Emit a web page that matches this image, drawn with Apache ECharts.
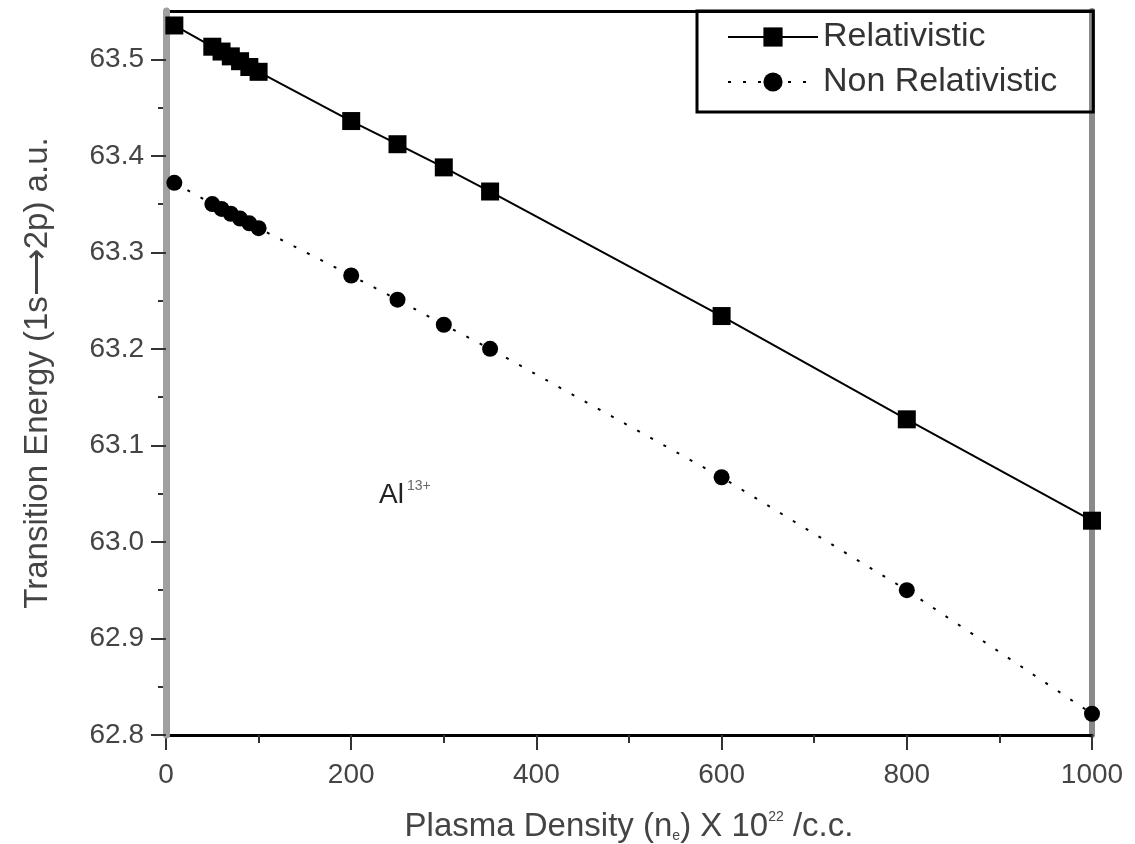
<!DOCTYPE html>
<html>
<head>
<meta charset="utf-8">
<script src="https://cdn.jsdelivr.net/npm/echarts@6/dist/echarts.min.js"></script>
<style>
html,body{margin:0;padding:0;background:#fff;}
#chart{width:1135px;height:844px;}
</style>
</head>
<body>
<div id="chart"></div>
<script>
// Data
const densities = [9, 50, 60, 70, 80, 90, 100, 200, 250, 300, 350, 600, 800, 1000];
const relativistic = [63.535, 63.513, 63.508, 63.503, 63.498, 63.492, 63.487, 63.436, 63.412, 63.388, 63.363, 63.234, 63.127, 63.022];
const nonRelativistic = [63.372, 63.350, 63.345, 63.340, 63.335, 63.330, 63.325, 63.276, 63.251, 63.225, 63.200, 63.067, 62.950, 62.822];
const seriesNames = ['Relativistic', 'Non Relativistic'];
const yMajorTicks = [62.8, 62.9, 63.0, 63.1, 63.2, 63.3, 63.4, 63.5];
const yMinorTicks = [62.85, 62.95, 63.05, 63.15, 63.25, 63.35, 63.45];

const FONT = 'Liberation Sans, Arial, sans-serif';
const chart = echarts.init(document.getElementById('chart'));

const pairs = (ys) => densities.map((x, i) => [x, ys[i]]);
const Y_MIN = 62.8, Y_MAX = 63.55;

chart.setOption({
  animation: false,
  backgroundColor: '#fff',
  grid: { left: 166, right: 43, top: 11, bottom: 109, containLabel: false, outerBoundsMode: 'none' },
  legend: {
    left: 697, top: 11,
    orient: 'vertical',
    borderColor: '#000', borderWidth: 3,
    padding: [9, 36, 13, 30],
    itemGap: 11,
    itemWidth: 90, itemHeight: 24,
    textStyle: { fontFamily: FONT, fontSize: 34, color: '#333' },
    data: seriesNames
  },
  xAxis: [{
    type: 'value', min: 0, max: 1000, interval: 200,
    name: 'Plasma Density (n{sub|e}) X 10{sup|22} /c.c.',
    nameLocation: 'middle', nameGap: 75,
    nameTextStyle: {
      fontFamily: FONT, fontSize: 33, color: '#444',
      rich: {
        sub: { fontFamily: FONT, fontSize: 14, color: '#444', verticalAlign: 'bottom', padding: [17, 0, 0, 0] },
        sup: { fontFamily: FONT, fontSize: 14, color: '#444', verticalAlign: 'top', padding: [0, 0, 17, 0] }
      }
    },
    axisLine: { show: true, onZero: false, lineStyle: { color: '#000', width: 3 } },
    axisTick: { show: true, inside: false, length: 15, lineStyle: { color: '#333', width: 2 } },
    minorTick: { show: true, splitNumber: 2, length: 8, lineStyle: { color: '#333', width: 2 } },
    axisLabel: { fontFamily: FONT, fontSize: 28, color: '#444', margin: 26, formatter: (v) => String(v) },
    splitLine: { show: false }
  }, {
    type: 'value', min: 0, max: 1000, position: 'top',
    axisLine: { show: true, onZero: false, lineStyle: { color: '#000', width: 3 } },
    axisTick: { show: false }, axisLabel: { show: false }, splitLine: { show: false }
  }],
  yAxis: [{
    type: 'value', min: Y_MIN, max: Y_MAX, interval: 0.1,
    name: 'Transition Energy (1s\u27F62p) a.u.',
    nameLocation: 'middle', nameGap: 112,
    nameTextStyle: { fontFamily: FONT, fontSize: 33, color: '#444' },
    axisLine: { show: true, onZero: false, lineStyle: { color: '#a0a0a0', width: 7 } },
    axisTick: { show: true, inside: false, length: 15, customValues: yMajorTicks, lineStyle: { color: '#333', width: 2 } },
    minorTick: { show: false },
    axisLabel: {
      fontFamily: FONT, fontSize: 28, color: '#444', margin: 22,
      customValues: yMajorTicks,
      formatter: (v) => Number(v).toFixed(1)
    },
    splitLine: { show: false },
    z: 2
  }, {
    type: 'value', min: Y_MIN, max: Y_MAX, position: 'right',
    axisLine: { show: true, onZero: false, lineStyle: { color: '#8a8a8a', width: 6 } },
    axisTick: { show: false }, axisLabel: { show: false }, splitLine: { show: false }
  }, {
    type: 'value', min: Y_MIN, max: Y_MAX, position: 'left', offset: 0,
    axisLine: { show: false },
    axisTick: { show: true, inside: false, length: 8, customValues: yMinorTicks, lineStyle: { color: '#333', width: 2 } },
    axisLabel: { show: false }, splitLine: { show: false }
  }],
  series: [{
    name: seriesNames[0], type: 'line',
    data: pairs(relativistic),
    symbol: 'rect', symbolSize: 18,
    itemStyle: { color: '#000' },
    lineStyle: { color: '#000', width: 2, type: 'solid' },
    z: 3
  }, {
    name: seriesNames[1], type: 'line',
    data: pairs(nonRelativistic),
    symbol: 'circle', symbolSize: 16,
    itemStyle: { color: '#000' },
    lineStyle: { color: '#000', width: 2, type: [3, 12] },
    z: 3
  }],
  graphic: [{
    type: 'text', left: 379, top: 479,
    style: {
      text: 'Al{sup|13+}',
      font: '28px ' + FONT, fill: '#222',
      rich: { sup: { fontSize: 14, fontFamily: FONT, fill: '#666', verticalAlign: 'top', padding: [0, 0, 18, 3] } }
    }
  }]
});
</script>
</body>
</html>
